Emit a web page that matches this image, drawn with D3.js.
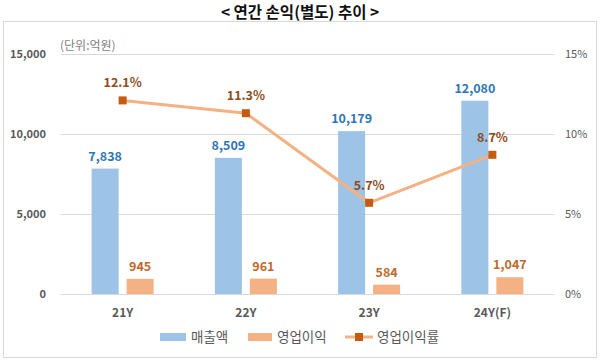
<!DOCTYPE html>
<html><head><meta charset="utf-8">
<script src="https://cdn.jsdelivr.net/npm/d3@7"></script>
<style>
body{margin:0;background:#fff;}
text{font-family:"Noto Sans CJK KR","Noto Sans",sans-serif;}
</style></head>
<body>
<svg id="c" width="600" height="360"></svg>
<script>
const categories = ["21Y","22Y","23Y","24Y(F)"];
const sales = [7838, 8509, 10179, 12080];
const opProfit = [945, 961, 584, 1047];
const opMargin = [12.1, 11.3, 5.7, 8.7];
const leftTicks = [0, 5000, 10000, 15000];
const rightTicks = [0, 5, 10, 15];
const seriesNames = ["매출액","영업이익","영업이익률"];

const svg = d3.select("#c");
const plot = {left:61, right:554, top:54, bottom:294};

svg.append("rect").attr("x",3.5).attr("y",21.5).attr("width",593).attr("height",336)
  .attr("fill","none").attr("stroke","#d9d9d9");

svg.append("text").attr("x",300).attr("y",18).attr("text-anchor","middle")
  .attr("font-size",15.5).attr("font-weight","bold").attr("fill","#111")
  .text("< 연간 손익(별도) 추이 >");

const x = d3.scaleBand().domain(categories).range([plot.left, plot.right]);
const y = d3.scaleLinear().domain([0,15000]).range([plot.bottom, plot.top]);
const y2 = d3.scaleLinear().domain([0,15]).range([plot.bottom, plot.top]);

// gridlines
svg.append("g").selectAll("line").data(leftTicks).join("line")
  .attr("x1",plot.left).attr("x2",plot.right)
  .attr("y1",d=>Math.round(y(d))+0.5).attr("y2",d=>Math.round(y(d))+0.5)
  .attr("stroke","#d9d9d9").attr("stroke-width",1);

const numFont = "'Noto Sans','Open Sans',sans-serif";

// left axis
const la = svg.append("g").attr("transform",`translate(46,0)`)
  .call(d3.axisLeft(y).tickValues(leftTicks).tickFormat(d3.format(",")).tickSize(0).tickPadding(0));
la.select(".domain").remove();
la.selectAll("text").attr("font-size",11).attr("font-weight","bold").attr("fill","#595959")
  .attr("font-family",numFont);

// right axis
const ra = svg.append("g").attr("transform",`translate(565,0)`)
  .call(d3.axisRight(y2).tickValues(rightTicks).tickFormat(d=>d+"%").tickSize(0).tickPadding(0));
ra.select(".domain").remove();
ra.selectAll("text").attr("font-size",11).attr("fill","#595959")
  .attr("font-family",numFont);

// x axis labels
const xa = svg.append("g").attr("transform",`translate(0,${plot.bottom+6})`)
  .call(d3.axisBottom(x).tickSize(0).tickPadding(8));
xa.select(".domain").remove();
xa.selectAll("text").attr("font-size",12).attr("font-weight","bold").attr("fill","#595959")
  .attr("font-family",numFont);

// unit
svg.append("text").attr("x",60).attr("y",50).attr("font-size",12).attr("fill","#7f7f7f")
  .text("(단위:억원)");

const bw = 27, gap = 8;
const cx = d => x(d) + x.bandwidth()/2;

const data = categories.map((c,i)=>({c, s:sales[i], p:opProfit[i], m:opMargin[i]}));

// sales bars
svg.append("g").selectAll("rect").data(data).join("rect")
  .attr("x",d=>cx(d.c)-gap/2-bw).attr("width",bw)
  .attr("y",d=>y(d.s)).attr("height",d=>y(0)-y(d.s)).attr("fill","#9DC3E6");
// profit bars
svg.append("g").selectAll("rect").data(data).join("rect")
  .attr("x",d=>cx(d.c)+gap/2).attr("width",bw)
  .attr("y",d=>y(d.p)).attr("height",d=>y(0)-y(d.p)).attr("fill","#F4B183");

svg.append("g").selectAll("text").data(data).join("text")
  .attr("x",d=>cx(d.c)-gap/2-bw/2).attr("y",d=>y(d.s)-8).attr("text-anchor","middle")
  .attr("font-size",12.5).attr("font-weight","bold").attr("fill","#2E75B6").attr("font-family",numFont)
  .text(d=>d3.format(",")(d.s));
svg.append("g").selectAll("text").data(data).join("text")
  .attr("x",d=>cx(d.c)+gap/2+bw/2).attr("y",d=>y(d.p)-8).attr("text-anchor","middle")
  .attr("font-size",12.5).attr("font-weight","bold").attr("fill","#C0692C").attr("font-family",numFont)
  .text(d=>d3.format(",")(d.p));

// line
const line = d3.line().x(d=>cx(d.c)).y(d=>y2(d.m));
svg.append("path").datum(data).attr("d",line).attr("fill","none")
  .attr("stroke","#F4B183").attr("stroke-width",3);
svg.append("g").selectAll("rect").data(data).join("rect")
  .attr("x",d=>cx(d.c)-4).attr("y",d=>y2(d.m)-4).attr("width",8).attr("height",8)
  .attr("fill","#C55A11");
svg.append("g").selectAll("text").data(data).join("text")
  .attr("x",d=>cx(d.c)).attr("y",d=>y2(d.m)-13).attr("text-anchor","middle")
  .attr("font-size",12.5).attr("font-weight","bold").attr("fill","#8E4B20").attr("font-family",numFont)
  .text(d=>d.m.toFixed(1)+"%");

// legend
const lg = svg.append("g");
const ly = 337;
lg.append("rect").attr("x",160).attr("y",ly-4).attr("width",26).attr("height",8).attr("fill","#9DC3E6");
lg.append("text").attr("x",191).attr("y",ly+5).attr("font-size",13.5).attr("fill","#595959").text(seriesNames[0]);
lg.append("rect").attr("x",248).attr("y",ly-4).attr("width",24).attr("height",8).attr("fill","#F4B183");
lg.append("text").attr("x",277).attr("y",ly+5).attr("font-size",13.5).attr("fill","#595959").text(seriesNames[1]);
lg.append("line").attr("x1",345).attr("x2",373).attr("y1",ly).attr("y2",ly).attr("stroke","#F4B183").attr("stroke-width",3);
lg.append("rect").attr("x",355).attr("y",ly-4).attr("width",8).attr("height",8).attr("fill","#C55A11");
lg.append("text").attr("x",377).attr("y",ly+5).attr("font-size",13.5).attr("fill","#595959").text(seriesNames[2]);
</script>
</body></html>
